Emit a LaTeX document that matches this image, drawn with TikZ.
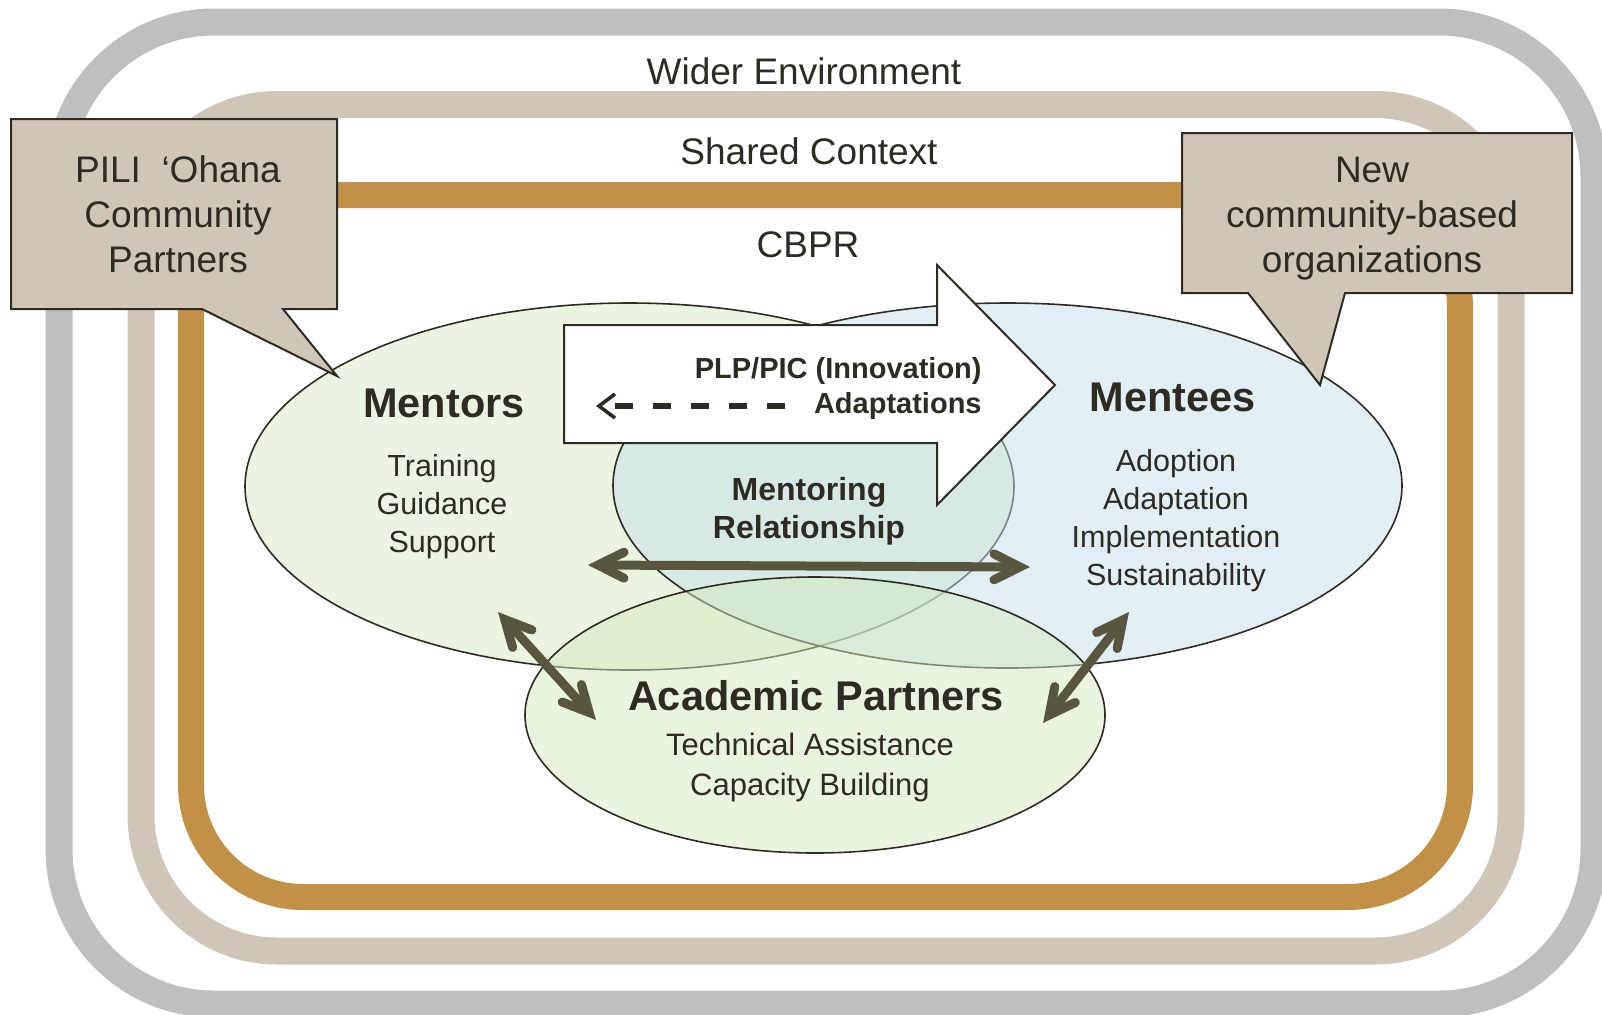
\documentclass[tikz,border=0pt]{standalone}
\usepackage{fontspec}
\setmainfont{Liberation Sans}
\usetikzlibrary{arrows.meta}

\definecolor{envgray}{RGB}{191,191,191}
\definecolor{ctxbeige}{RGB}{208,198,184}
\definecolor{cbprgold}{RGB}{194,145,71}
\definecolor{ink}{RGB}{46,43,35}
\definecolor{olive}{RGB}{88,86,62}
\definecolor{mentorgreen}{RGB}{234,244,224}
\definecolor{menteeblue}{RGB}{195,223,235}
\definecolor{academicgreen}{RGB}{211,233,191}

\tikzset{
  ring/.style={line width=13.5pt},
  bubble/.style={draw=ink, line width=0.8pt},
  callout/.style={draw=ink, fill=ctxbeige, line width=1pt},
  lbl/.style={text=ink, inner sep=0pt, align=center, font=\fontsize{18.5}{22.5}\selectfont},
  title/.style={lbl, font=\bfseries\fontsize{20.75}{24}\selectfont},
  items/.style={lbl, font=\fontsize{15.25}{19}\selectfont},
  twoway/.style={olive, line width=4.5pt,
    {Straight Barb[length=13pt,width=13pt,line cap=round]}-{Straight Barb[length=13pt,width=13pt,line cap=round]}},
  feedback/.style={ink, line width=3pt, dash pattern=on 9pt off 10pt,
    -{Straight Barb[length=8pt,width=12pt,line width=1.8pt]}}
}

\begin{document}
\begin{tikzpicture}[x=0.5pt,y=0.5pt]
  \useasboundingbox (0,0) rectangle (1602,-1014);

  % nested settings
  \draw[ring,envgray,rounded corners=77.5pt] (59,-22) rectangle (1594,-1004);
  \draw[ring,ctxbeige,rounded corners=68pt] (141,-104.5) rectangle (1511,-951);
  \draw[ring,cbprgold,line width=13pt,rounded corners=56pt] (191,-195) rectangle (1460,-897);

  \node[lbl] (wider) at (804,-71) {Wider Environment};
  \node[lbl] (shared) at (809,-151) {Shared Context};
  \node[lbl] (cbpr) at (808,-245) {CBPR};

  % the three partners
  \path[bubble, fill=mentorgreen] (629.5,-486.5) ellipse [x radius=384.5, y radius=183.5];
  \path[bubble, fill=menteeblue, fill opacity=.5] (1007.5,-485.5) ellipse [x radius=394.5, y radius=182.5];
  \path[bubble, fill=academicgreen, fill opacity=.5] (815,-715) ellipse [x radius=290, y radius=138];

  % innovation arrow
  \draw[ink, fill=white, line width=1pt] (564,-325) -- (937,-325) -- (937,-265) -- (1055,-385)
    -- (937,-505) -- (937,-443) -- (564,-443) -- cycle;
  \node[lbl, font=\bfseries\fontsize{14.5}{17.5}\selectfont, align=right, anchor=east] (plp)
    at (982,-388) {PLP/PIC (Innovation)\\Adaptations};
  \coordinate (adapt-start) at (785,-406);
  \coordinate (adapt-end) at (596,-406);
  \draw[feedback] (adapt-start) -- (adapt-end);

  \node[title] (mentors) at (444,-403) {Mentors};
  \node[items] (mentors-do) at (442,-507) {Training\\Guidance\\Support};

  \node[title] (mentees) at (1173,-397) {Mentees};
  \node[items] (mentees-do) at (1176,-520.5) {Adoption\\Adaptation\\Implementation\\Sustainability};

  \node[lbl, font=\bfseries\fontsize{16}{19}\selectfont] (relation) at (809,-511) {Mentoring\\Relationship};

  \node[title] (academic) at (816,-696) {Academic Partners};
  \node[items, font=\fontsize{15.5}{20}\selectfont] (academic-do) at (810,-767) {Technical Assistance\\Capacity Building};

  % exchanges between partners
  \coordinate (mtr-e) at (588,-565);
  \coordinate (mte-w) at (1030,-567);
  \coordinate (mtr-s) at (498,-612);
  \coordinate (acd-w) at (596,-720);
  \coordinate (mte-s) at (1129,-612);
  \coordinate (acd-e) at (1043,-723);
  \draw[twoway] (mtr-e) -- (mte-w);
  \draw[twoway] (mtr-s) -- (acd-w);
  \draw[twoway] (mte-s) -- (acd-e);

  % callouts
  \draw[callout] (11,-119) -- (337,-119) -- (337,-309) -- (283,-309) -- (337,-376)
    -- (202,-309) -- (11,-309) -- cycle;
  \node[lbl] (pili) at (178,-214.5) {PILI\ \ ‘Ohana\\Community\\Partners};

  \draw[callout] (1182,-133) -- (1572,-133) -- (1572,-293) -- (1345,-293) -- (1320,-385)
    -- (1248,-293) -- (1182,-293) -- cycle;
  \node[lbl] (newcbo) at (1372,-218.5) {New\\community-based\\organizations};
\end{tikzpicture}
\end{document}
